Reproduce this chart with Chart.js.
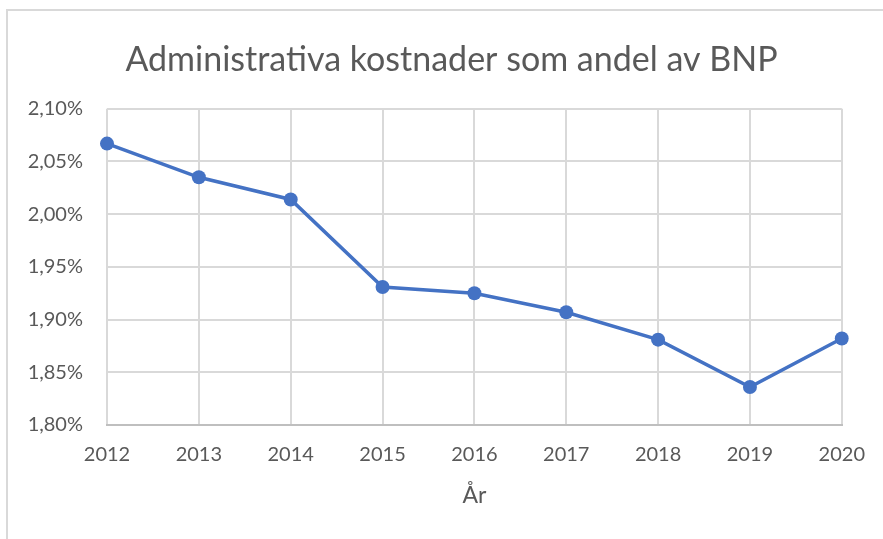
<!DOCTYPE html>
<html>
<head>
<meta charset="utf-8">
<script src="https://cdn.jsdelivr.net/npm/chart.js@4"></script>
<style>
  html, body { margin: 0; padding: 0; background: #fff; }
  #wrap { position: relative; width: 883px; height: 539px; }
</style>
</head>
<body>
<div id="wrap"><canvas id="chart" width="883" height="539"></canvas></div>
<script>
const years = ['2012', '2013', '2014', '2015', '2016', '2017', '2018', '2019', '2020'];
const andel = [2.067, 2.035, 2.014, 1.931, 1.925, 1.907, 1.881, 1.836, 1.882];
const yMin = 1.80;
const yMax = 2.10;
const yStep = 0.05;

const textColor = '#595959';
const gridColor = '#d9d9d9';

// thin frame like the Excel chart box (left + top edge visible)
const framePlugin = {
    id: 'frame',
    beforeDraw(chart) {
        const ctx = chart.ctx;
        ctx.save();
        ctx.strokeStyle = gridColor;
        ctx.lineWidth = 2;
        ctx.beginPath();
        ctx.moveTo(7, 539);
        ctx.lineTo(7, 10);
        ctx.lineTo(883, 10);
        ctx.stroke();
        ctx.restore();
    }
};

const ctx = document.getElementById('chart').getContext('2d');
new Chart(ctx, {
    type: 'line',
    data: {
        labels: years,
        datasets: [{
            data: andel,
            borderColor: '#4472C4',
            backgroundColor: '#4472C4',
            borderWidth: 3.5,
            pointRadius: 7,
            pointBorderWidth: 0,
            pointBackgroundColor: '#4472C4',
            tension: 0
        }]
    },
    options: {
        responsive: false,
        animation: false,
        layout: { padding: { top: 0, left: 20, right: 0, bottom: 0 } },
        plugins: {
            legend: { display: false },
            tooltip: { enabled: false },
            title: {
                display: true,
                text: 'Administrativa kostnader som andel av BNP',
                color: textColor,
                font: { family: 'Lato', size: 34, weight: 'normal', lineHeight: 1.2 },
                padding: { top: 40, bottom: 28 }
            }
        },
        scales: {
            x: {
                offset: false,
                grid: { color: gridColor, lineWidth: 2, drawTicks: false },
                border: { color: '#bfbfbf', width: 2 },
                ticks: {
                    color: textColor,
                    padding: 18,
                    maxRotation: 0,
                    font: { family: 'Lato', size: 20 }
                },
                title: {
                    display: true,
                    text: 'År',
                    color: textColor,
                    font: { family: 'Lato', size: 23, lineHeight: 1.2 },
                    padding: { top: 0, bottom: 30 }
                },
                afterFit(scale) { scale.height = 114; }
            },
            y: {
                min: yMin,
                max: yMax,
                grid: { color: gridColor, lineWidth: 2, drawTicks: false },
                border: { display: false },
                ticks: {
                    stepSize: yStep,
                    color: textColor,
                    padding: 24,
                    font: { family: 'Lato', size: 20 },
                    callback: v => v.toFixed(2).replace('.', ',') + '%'
                },
                afterFit(scale) { scale.width = 87; }
            },
            // empty spacer on the right so the title stays centred on the whole box
            spacer: {
                type: 'linear',
                position: 'right',
                grid: { display: false },
                border: { display: false },
                ticks: { display: false },
                afterFit(scale) { scale.width = 40; }
            }
        }
    },
    plugins: [framePlugin]
});
</script>
</body>
</html>
